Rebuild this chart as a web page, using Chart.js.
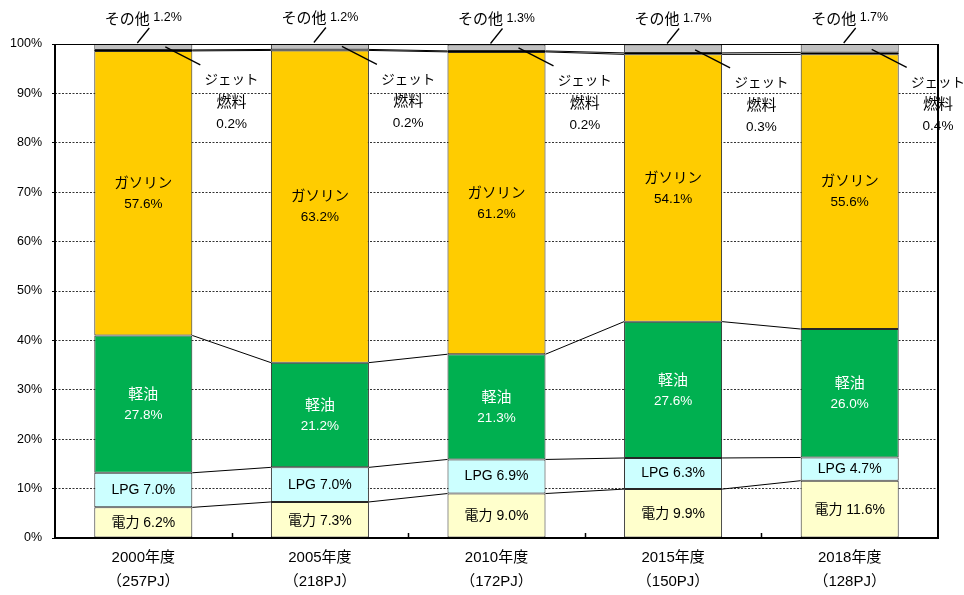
<!DOCTYPE html>
<html lang="ja">
<head>
<meta charset="utf-8">
<script src="https://cdn.jsdelivr.net/npm/chart.js@4.4.1/dist/chart.umd.min.js"></script>
<style>
  body { margin: 0; background: #fff; }
  #wrap { width: 964px; height: 595px; }
</style>
</head>
<body>
<div id="wrap"><canvas id="myChart" width="964" height="595"></canvas></div>
<script>
// Fiscal years and total energy use for each bar
const years = ['2000年度', '2005年度', '2010年度', '2015年度', '2018年度'];
const totals = ['（257PJ）', '（218PJ）', '（172PJ）', '（150PJ）', '（128PJ）'];

// Share of each energy source (%)
const denryoku = [6.2, 7.3, 9.0, 9.9, 11.6];   // 電力
const lpg = [7.0, 7.0, 6.9, 6.3, 4.7];         // LPG
const keiyu = [27.8, 21.2, 21.3, 27.6, 26.0];  // 軽油
const gasoline = [57.6, 63.2, 61.2, 54.1, 55.6]; // ガソリン
const jetFuel = [0.2, 0.2, 0.2, 0.3, 0.4];     // ジェット燃料
const other = [1.2, 1.2, 1.3, 1.7, 1.7];       // その他

// Y axis range
const yMax = 100;
const yStep = 10;

const NUM = '"Liberation Sans", "Noto Sans CJK JP", sans-serif';
const JP = '"Noto Sans CJK JP", sans-serif';
const pct = v => v.toFixed(1) + '%';

// Thin lines joining the series boundaries of neighbouring bars
const connectorPlugin = {
  id: 'connectors',
  afterDatasetsDraw(chart) {
    const ctx = chart.ctx;
    ctx.save();
    ctx.strokeStyle = '#000';
    ctx.lineWidth = 1;
    for (let s = 0; s < 5; s++) {
      const bars = chart.getDatasetMeta(s).data;
      for (let i = 0; i < bars.length - 1; i++) {
        const a = bars[i], b = bars[i + 1];
        ctx.beginPath();
        ctx.moveTo(a.x + a.width / 2, a.y);
        ctx.lineTo(b.x - b.width / 2, b.y);
        ctx.stroke();
      }
    }
    ctx.restore();
  }
};

// Value labels inside the bars and call-outs above them
const labelPlugin = {
  id: 'barLabels',
  afterDatasetsDraw(chart) {
    const ctx = chart.ctx;
    const area = chart.chartArea;
    const slot = (area.right - area.left) / years.length;
    ctx.save();
    ctx.textAlign = 'center';
    ctx.textBaseline = 'middle';

    const bar = (s, i) => chart.getDatasetMeta(s).data[i];
    const mid = el => (el.y + el.base) / 2;

    years.forEach((y, i) => {
      // 電力
      let el = bar(0, i);
      ctx.fillStyle = '#000';
      ctx.font = '14px ' + NUM;
      ctx.fillText('電力 ' + pct(denryoku[i]), el.x, mid(el) + 1);

      // LPG
      el = bar(1, i);
      ctx.fillText('LPG ' + pct(lpg[i]), el.x, mid(el));

      // 軽油 (white on green)
      el = bar(2, i);
      ctx.fillStyle = '#fff';
      ctx.font = '15px ' + JP;
      ctx.fillText('軽油', el.x, mid(el) - 11);
      ctx.font = '13.5px ' + NUM;
      ctx.fillText(pct(keiyu[i]), el.x, mid(el) + 11);

      // ガソリン
      el = bar(3, i);
      ctx.fillStyle = '#000';
      ctx.font = '14.5px ' + JP;
      ctx.fillText('ガソリン', el.x, mid(el) - 11);
      ctx.font = '13.5px ' + NUM;
      ctx.fillText(pct(gasoline[i]), el.x, mid(el) + 11);

      // ジェット燃料 call-out to the right of the bar
      el = bar(4, i);
      const jx = el.x + slot / 2;
      ctx.font = '13.5px ' + JP;
      ctx.fillText('ジェット', jx, el.y + 29);
      ctx.font = '15px ' + JP;
      ctx.fillText('燃料', jx, el.y + 51);
      ctx.font = '13.5px ' + NUM;
      ctx.fillText(pct(jetFuel[i]), jx, el.y + 74);
      ctx.strokeStyle = '#000';
      ctx.lineWidth = 1.3;
      ctx.beginPath();
      ctx.moveTo(el.x + 22, el.y - 3);
      ctx.lineTo(el.x + 57, el.y + 15);
      ctx.stroke();

      // その他 call-out above the bar
      el = bar(5, i);
      ctx.textAlign = 'left';
      ctx.font = '15px ' + JP;
      const w1 = ctx.measureText('その他').width;
      ctx.font = '12.5px ' + NUM;
      const tail = ' ' + pct(other[i]);
      const w2 = ctx.measureText(tail).width;
      const x0 = el.x - (w1 + w2) / 2;
      const ty = el.y - 26;
      ctx.font = '15px ' + JP;
      ctx.fillText('その他', x0, ty);
      ctx.font = '12.5px ' + NUM;
      ctx.fillText(tail, x0 + w1, ty);
      ctx.textAlign = 'center';
      ctx.beginPath();
      ctx.moveTo(el.x + 6, el.y - 16);
      ctx.lineTo(el.x - 6, el.y - 1);
      ctx.stroke();
    });
    ctx.restore();
  }
};

// Plot frame and the short ticks between categories
const framePlugin = {
  id: 'frame',
  afterDraw(chart) {
    const ctx = chart.ctx;
    const a = chart.chartArea;
    const slot = (a.right - a.left) / years.length;
    ctx.save();
    ctx.strokeStyle = '#000';
    ctx.lineWidth = 1;
    ctx.beginPath();
    ctx.moveTo(a.left, a.top + 0.5);
    ctx.lineTo(a.right, a.top + 0.5);
    ctx.stroke();
    ctx.lineWidth = 2;
    ctx.beginPath();
    ctx.moveTo(a.left, a.top);
    ctx.lineTo(a.left, a.bottom);
    ctx.lineTo(a.right, a.bottom);
    ctx.lineTo(a.right, a.top);
    ctx.stroke();
    ctx.lineWidth = 1.5;
    for (let i = 1; i < years.length; i++) {
      const x = Math.round(a.left + slot * i) + 0.5;
      ctx.beginPath();
      ctx.moveTo(x, a.bottom);
      ctx.lineTo(x, a.bottom - 5);
      ctx.stroke();
    }
    ctx.restore();
  }
};

const barStyle = {
  borderColor: '#262626',
  borderWidth: 1,
  borderSkipped: false,
  barPercentage: 0.555,
  categoryPercentage: 1
};

const ctx = document.getElementById('myChart').getContext('2d');

new Chart(ctx, {
  type: 'bar',
  data: {
    labels: years.map((y, i) => [y, totals[i]]),
    datasets: [
      { label: '電力', data: denryoku, backgroundColor: '#FFFFCC', ...barStyle },
      { label: 'LPG', data: lpg, backgroundColor: '#CCFFFF', ...barStyle },
      { label: '軽油', data: keiyu, backgroundColor: '#00B050', ...barStyle },
      { label: 'ガソリン', data: gasoline, backgroundColor: '#FFCC00', ...barStyle },
      { label: 'ジェット燃料', data: jetFuel, backgroundColor: '#000', ...barStyle, borderWidth: 0 },
      { label: 'その他', data: other, backgroundColor: '#C0C0C0', ...barStyle }
    ]
  },
  options: {
    responsive: false,
    animation: false,
    layout: { padding: { top: 44, right: 26, left: 0, bottom: 0 } },
    plugins: {
      legend: { display: false },
      tooltip: { enabled: false }
    },
    scales: {
      x: {
        stacked: true,
        grid: { display: false, drawTicks: false },
        border: { display: false },
        ticks: {
          color: '#000',
          padding: 8,
          font: { family: NUM, size: 15, lineHeight: '24px' }
        },
        afterFit(scale) { scale.height = 57; }
      },
      y: {
        stacked: true,
        min: 0,
        max: yMax,
        grid: {
          color: '#333',
          lineWidth: 1,
          tickLength: 3,
          tickColor: '#000',
          tickBorderDash: []
        },
        border: { display: false, dash: [2, 1.5] },
        ticks: {
          stepSize: yStep,
          color: '#000',
          padding: 10,
          font: { family: NUM, size: 12.5 },
          callback: v => v + '%'
        },
        afterFit(scale) { scale.width = 55; }
      }
    }
  },
  plugins: [connectorPlugin, labelPlugin, framePlugin]
});
</script>
</body>
</html>
